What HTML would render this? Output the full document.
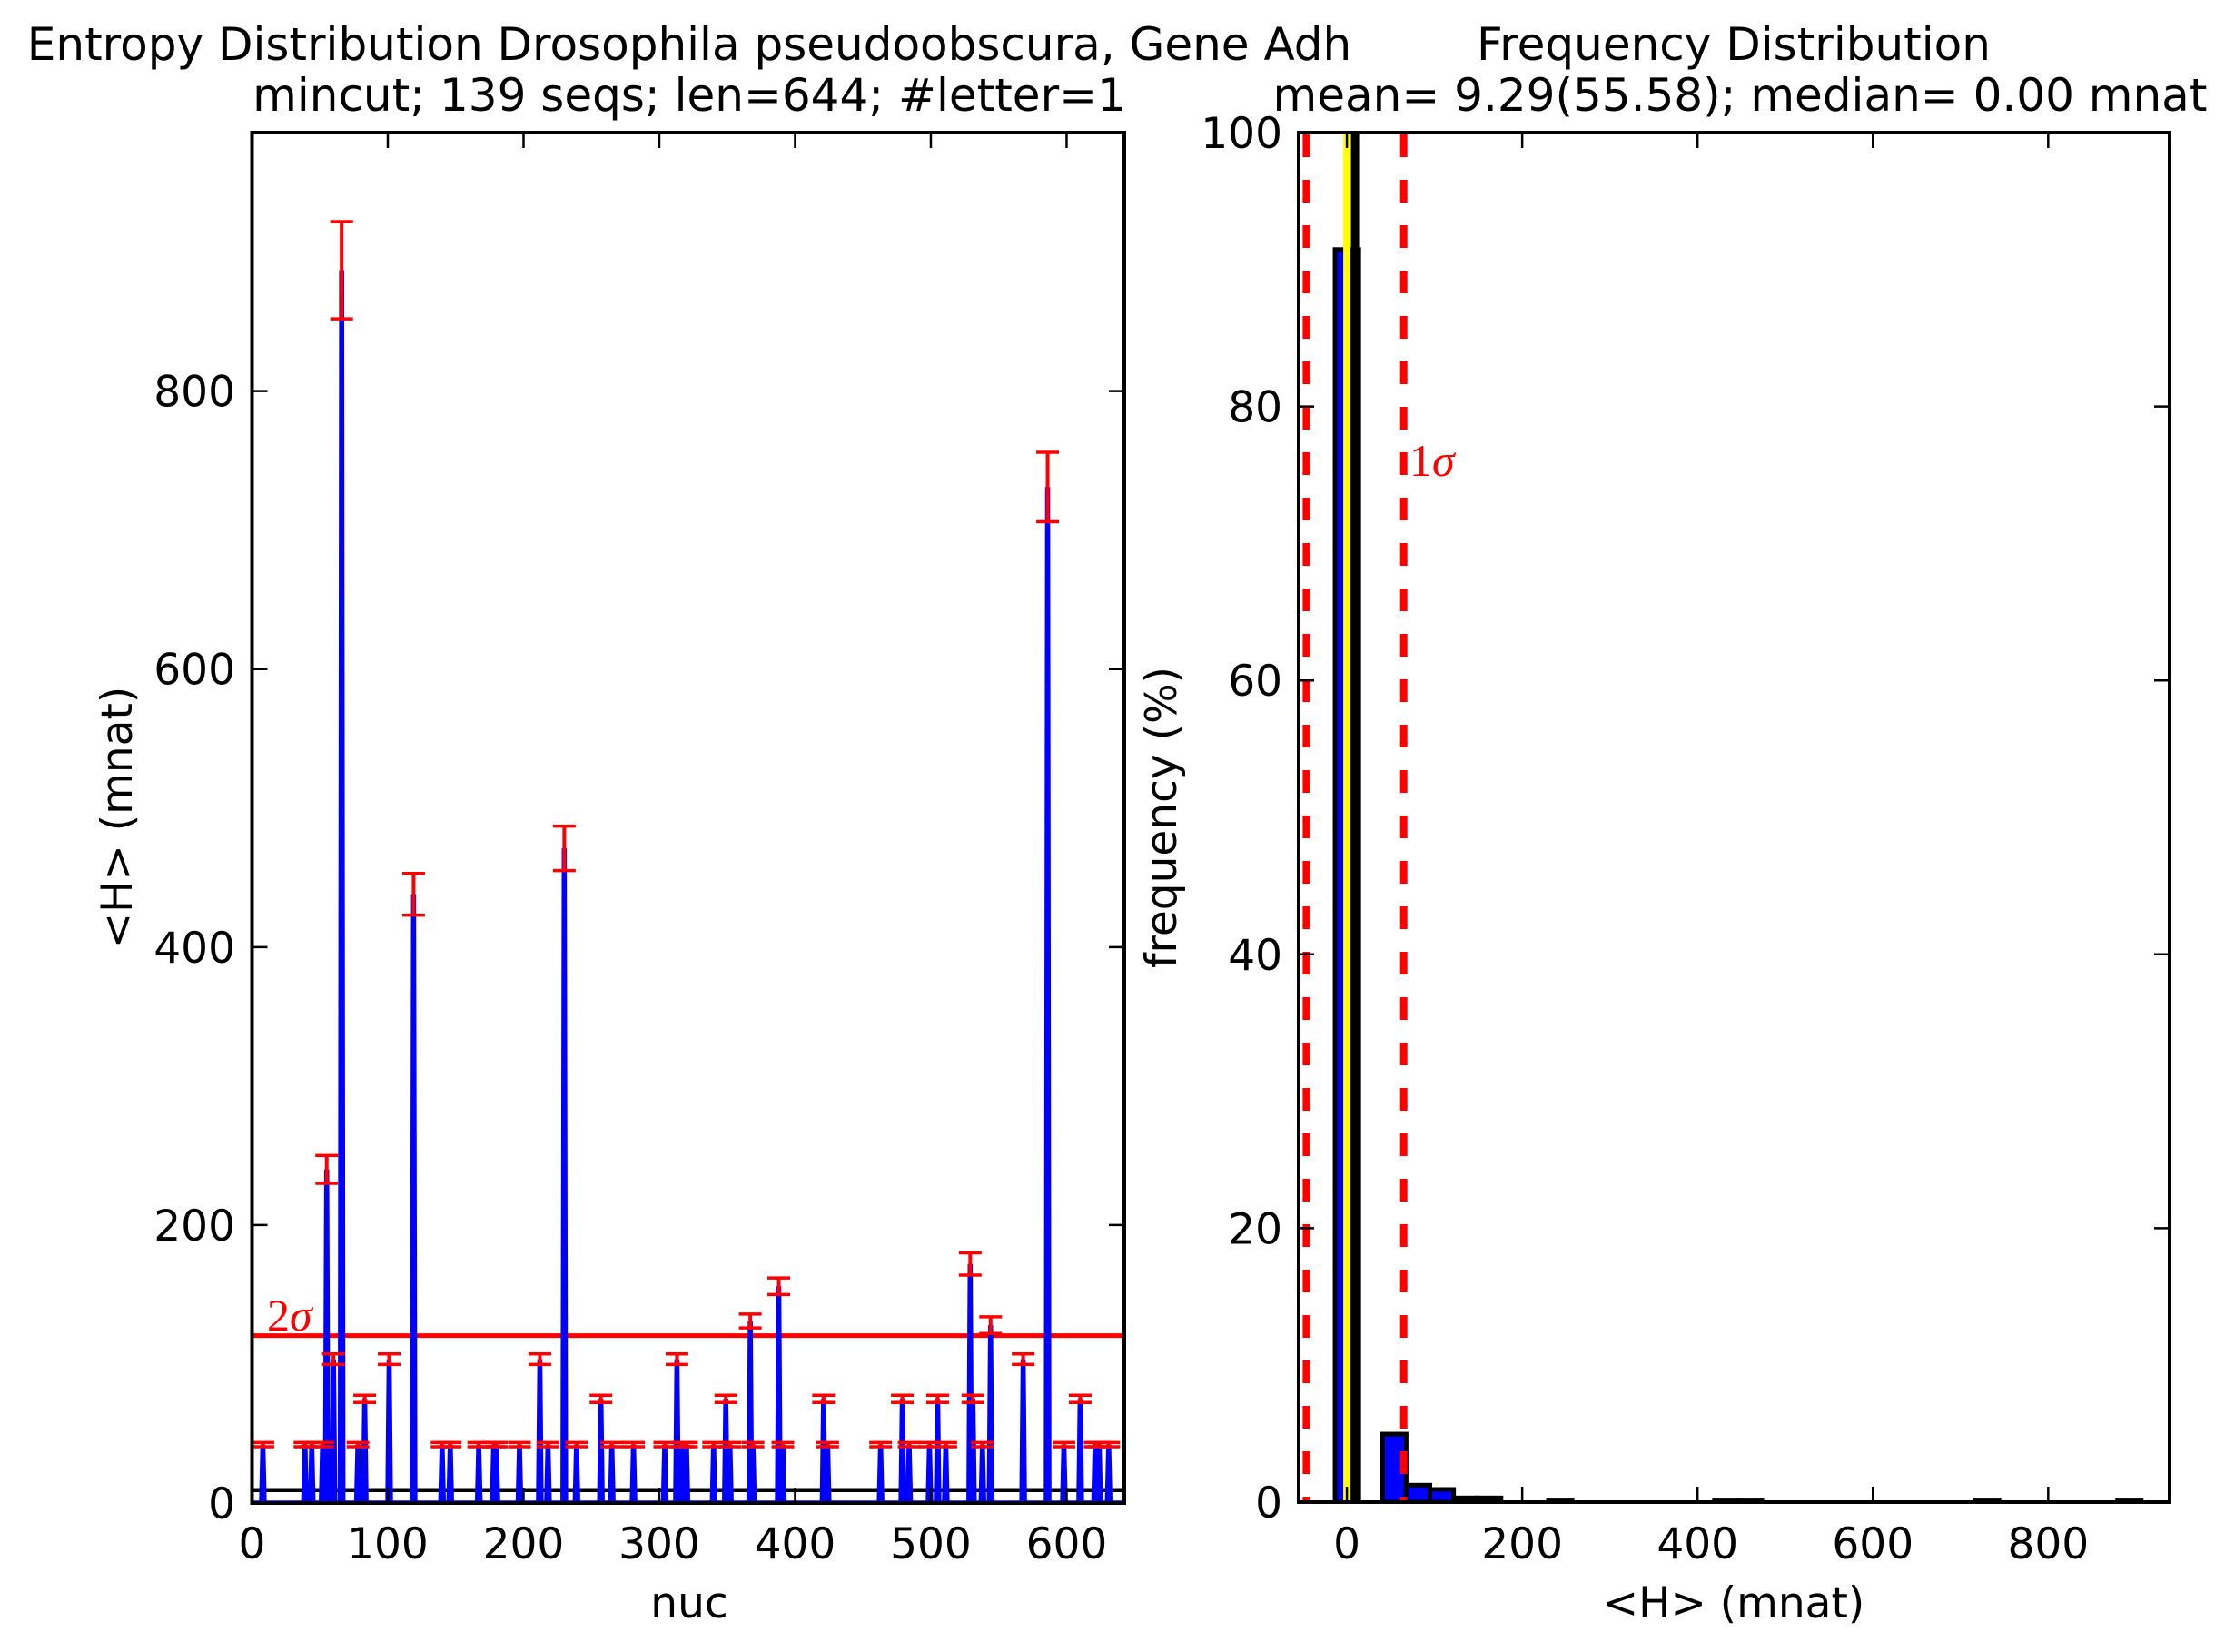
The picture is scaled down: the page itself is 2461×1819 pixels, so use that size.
<!DOCTYPE html>
<html><head><meta charset="utf-8"><style>
html,body{margin:0;padding:0;background:#fff;}
svg{display:block;}
text{font-family:"DejaVu Sans","Liberation Sans",sans-serif;fill:#000;}
</style></head><body>
<svg id="fig" xmlns="http://www.w3.org/2000/svg" width="2461" height="1819" viewBox="0 0 2461 1819">
<rect width="2461" height="1819" fill="#fff"/>
<defs>
<clipPath id="clipL"><rect x="277.5" y="146" width="960.5" height="1509"/></clipPath>
<clipPath id="clipR"><rect x="1430" y="146" width="959" height="1508"/></clipPath>
</defs>
<g id="left"></g>
<g id="right"></g>
<text x="759" y="66" font-size="50" text-anchor="middle">Entropy Distribution Drosophila pseudoobscura, Gene Adh</text>
<text x="759" y="122" font-size="50" text-anchor="middle">mincut; 139 seqs; len=644; #letter=1</text>
<text x="1909" y="66" font-size="50" text-anchor="middle">Frequency Distribution</text>
<text x="1916" y="122" font-size="50" text-anchor="middle">mean= 9.29(55.58); median= 0.00 mnat</text>
<text x="759" y="1781" font-size="47" text-anchor="middle">nuc</text>
<text x="0" y="0" font-size="47" text-anchor="middle" transform="translate(145,900) rotate(-90)">&lt;H&gt; (mnat)</text>
<text x="1909" y="1781" font-size="47" text-anchor="middle">&lt;H&gt; (mnat)</text>
<text x="0" y="0" font-size="47" text-anchor="middle" transform="translate(1295,900) rotate(-90)">frequency (%)</text>
</svg>
<script>
// ---- left chart data ----
const nucPositions = [8,39,44,52,55,60,66,78,83,101,119,140,146,167,178,180,197,212,218,230,239,257,265,281,304,313,317,320,340,349,352,367,369,388,391,421,424,463,479,484,499,505,511,529,531,538,544,568,586,598,610,621,624,631];
const entropyValues = [42,42,42,42,240,103.5,887,42,75,103.5,438,42,42,42,42,42,42,103.5,42,471,42,75,42,42,42,103.5,42,42,42,75,42,131,42,156,42,75,42,42,75,42,42,75,42,172,75,42,128,103.5,731,42,75,42,42,42];
const entropyErrors = [1.5,1.5,1.5,1.5,10,3.8,35,1.5,2.6,3.8,15,1.5,1.5,1.5,1.5,1.5,1.5,3.8,1.5,16,1.5,2.6,1.5,1.5,1.5,3.8,1.5,1.5,1.5,2.6,1.5,5,1.5,6,1.5,2.6,1.5,1.5,2.6,1.5,1.5,2.6,1.5,8,2.6,1.5,6,3.8,25,1.5,2.6,1.5,1.5,1.5];
const seqLength = [644];
const meanH = [9.29];
const sigmaH = [55.58];
const medianH = [0];
const leftXTicks = [0,100,200,300,400,500,600];
const leftYTicks = [0,200,400,600,800];
// ---- right chart data ----
const binStart = [-13.5];
const binWidth = [27.05];
const binIndex = [0,2,3,4,5,6,9,16,17,27,33];
const binFreq = [91.46,4.97,1.24,0.93,0.31,0.31,0.16,0.16,0.16,0.16,0.16];
const rightXTicks = [0,200,400,600,800];
const rightYTicks = [0,20,40,60,80,100];

const NS="http://www.w3.org/2000/svg";
function mk(parent,tag,attrs){const e=document.createElementNS(NS,tag);for(const k in attrs)e.setAttribute(k,attrs[k]);parent.appendChild(e);return e;}

const LX0=277.5,LX1=1238,LY0=1655,LY1=146;
const lxMin=0,lxMax=642.5,lyMin=0,lyMax=986;
const lx=v=>LX0+(v-lxMin)/(lxMax-lxMin)*(LX1-LX0);
const ly=v=>LY0-(v-lyMin)/(lyMax-lyMin)*(LY0-LY1);
const RX0=1430,RX1=2389,RY0=1654,RY1=146;
const rxMin=-55,rxMax=938.5,ryMin=0,ryMax=100;
const rx=v=>RX0+(v-rxMin)/(rxMax-rxMin)*(RX1-RX0);
const ry=v=>RY0-(v-ryMin)/(ryMax-ryMin)*(RY0-RY1);

const L=document.getElementById('left');
const R=document.getElementById('right');
const gL=mk(L,'g',{'clip-path':'url(#clipL)'});
const gR=mk(R,'g',{'clip-path':'url(#clipR)'});

let el=mk(gL,'line',{x1:LX0,x2:LX1,y1:ly(meanH[0]+2*sigmaH[0]),y2:ly(meanH[0]+2*sigmaH[0]),stroke:'#f00','stroke-width':5});


el=mk(gL,'line',{x1:LX0,x2:LX1,y1:ly(meanH[0]),y2:ly(meanH[0]),stroke:'#000','stroke-width':4.5});


const full=new Array(seqLength[0]+1).fill(0);
nucPositions.forEach((p,i)=>{full[p]=entropyValues[i];});
let pts=[];
for(let n=1;n<=seqLength[0];n++)pts.push(lx(n).toFixed(2)+','+ly(full[n]).toFixed(2));
el=mk(gL,'polyline',{points:pts.join(' '),fill:'none',stroke:'#00f','stroke-width':5.5,'stroke-linejoin':'miter'});


nucPositions.forEach((p,i)=>{
  const g=mk(gL,'g',{});
  
  
  const x=lx(p),yt=ly(entropyValues[i]+entropyErrors[i]),yb=ly(entropyValues[i]-entropyErrors[i]);
  mk(g,'line',{x1:x,x2:x,y1:yt,y2:yb,stroke:'#f00','stroke-width':4});
  mk(g,'line',{x1:x-12.5,x2:x+12.5,y1:yt,y2:yt,stroke:'#f00','stroke-width':3.5});
  mk(g,'line',{x1:x-12.5,x2:x+12.5,y1:yb,y2:yb,stroke:'#f00','stroke-width':3.5});
});
el=mk(L,'text',{x:294,y:1465,'font-size':50,style:'font-family:"Liberation Serif",serif;fill:#f00'});
el.innerHTML='2<tspan font-style="italic">σ</tspan>';



el=mk(L,'rect',{x:LX0,y:LY1,width:LX1-LX0,height:LY0-LY1,fill:'none',stroke:'#000','stroke-width':4});


leftXTicks.forEach(t=>{
  const x=lx(t);
  mk(L,'line',{x1:x,x2:x,y1:LY0,y2:LY0-17,stroke:'#000','stroke-width':2.5});
  mk(L,'line',{x1:x,x2:x,y1:LY1,y2:LY1+17,stroke:'#000','stroke-width':2.5});
  const tx=mk(L,'text',{x:x,y:1716,'font-size':47,'text-anchor':'middle'});
  tx.textContent=t;
  
  
});
leftYTicks.forEach(t=>{
  const y=ly(t);
  mk(L,'line',{x1:LX0,x2:LX0+17,y1:y,y2:y,stroke:'#000','stroke-width':2.5});
  mk(L,'line',{x1:LX1,x2:LX1-17,y1:y,y2:y,stroke:'#000','stroke-width':2.5});
  const tx=mk(L,'text',{x:259,y:y+17,'font-size':47,'text-anchor':'end'});
  tx.textContent=t;
  
  
});

binIndex.forEach((b,i)=>{
  const x0=rx(binStart[0]+b*binWidth[0]),x1=rx(binStart[0]+(b+1)*binWidth[0]);
  const r=mk(gR,'rect',{x:x0,y:ry(binFreq[i]),width:x1-x0,height:ry(0)-ry(binFreq[i]),fill:'#00f',stroke:'#000','stroke-width':5});
  
  
});
el=mk(gR,'line',{x1:rx(medianH[0]),x2:rx(medianH[0]),y1:RY1,y2:RY0,stroke:'#ff0','stroke-width':8});


el=mk(gR,'line',{x1:rx(meanH[0]),x2:rx(meanH[0]),y1:RY1,y2:RY0,stroke:'#000','stroke-width':9});


[meanH[0]-sigmaH[0],meanH[0]+sigmaH[0]].forEach(v=>{
  const d=mk(gR,'line',{x1:rx(v),x2:rx(v),y1:RY1+2,y2:RY0,stroke:'#f00','stroke-width':8,'stroke-dasharray':'25 25'});
  
  
});
el=mk(R,'text',{x:1552,y:524,'font-size':50,style:'font-family:"Liberation Serif",serif;fill:#f00'});
el.innerHTML='1<tspan font-style="italic">σ</tspan>';



el=mk(R,'rect',{x:RX0,y:RY1,width:RX1-RX0,height:RY0-RY1,fill:'none',stroke:'#000','stroke-width':4});


rightXTicks.forEach(t=>{
  const x=rx(t);
  mk(R,'line',{x1:x,x2:x,y1:RY0,y2:RY0-17,stroke:'#000','stroke-width':2.5});
  mk(R,'line',{x1:x,x2:x,y1:RY1,y2:RY1+17,stroke:'#000','stroke-width':2.5});
  const tx=mk(R,'text',{x:x,y:1716,'font-size':47,'text-anchor':'middle'});
  tx.textContent=t;
  
  
});
rightYTicks.forEach(t=>{
  const y=ry(t);
  mk(R,'line',{x1:RX0,x2:RX0+17,y1:y,y2:y,stroke:'#000','stroke-width':2.5});
  mk(R,'line',{x1:RX1,x2:RX1-17,y1:y,y2:y,stroke:'#000','stroke-width':2.5});
  const tx=mk(R,'text',{x:1412,y:y+17,'font-size':47,'text-anchor':'end'});
  tx.textContent=t;
  
  
});
</script>
</body></html>
